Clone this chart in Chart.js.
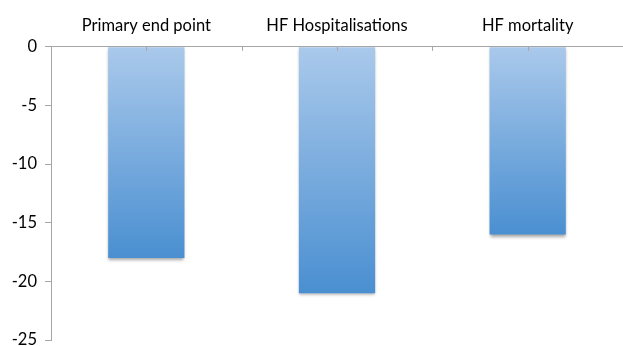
<!DOCTYPE html>
<html>
<head>
<meta charset="utf-8">
<script src="https://cdn.jsdelivr.net/npm/chart.js@4"></script>
<style>
  html, body { margin: 0; padding: 0; background: #fff; overflow: hidden; }
  #frame { width: 623px; height: 346px; overflow: hidden; }
  #wrap { width: 623px; height: 358px; }
</style>
</head>
<body>
<div id="frame"><div id="wrap"><canvas id="chart"></canvas></div></div>
<script>
// --- Data ---
const categories = ['Primary end point', 'HF Hospitalisations', 'HF mortality'];
const reduction = [-18, -21, -16];
const yTicks = [0, -5, -10, -15, -20, -25];

const AXIS_GREY = '#a6a6a6';
const FONT = { family: 'Lato', size: 16.5 };

// vertical gradient per bar, light at the zero line, darker at the bar end
function barGradient(context) {
    const chart = context.chart;
    if (!chart.chartArea || context.parsed === undefined) return '#8fb5e2';
    const y = chart.scales.y;
    const top = y.getPixelForValue(0);
    const bottom = y.getPixelForValue(context.parsed.y);
    const g = chart.ctx.createLinearGradient(0, top, 0, bottom);
    g.addColorStop(0, '#aac9eb');
    g.addColorStop(1, '#4a8fd1');
    return g;
}

// soft shadow under the bars
const barShadow = {
    id: 'barShadow',
    beforeDatasetsDraw(chart) {
        const ctx = chart.ctx;
        ctx.save();
        ctx.shadowColor = 'rgba(0,0,0,0.35)';
        ctx.shadowBlur = 3;
        ctx.shadowOffsetY = 2;
    },
    afterDatasetsDraw(chart) {
        chart.ctx.restore();
    }
};

// small tick marks hanging down from the top axis, at boundaries and centres
const innerTicks = {
    id: 'innerTicks',
    afterDraw(chart) {
        const x = chart.scales.x;
        const ctx = chart.ctx;
        const top = chart.chartArea.top;
        const half = (x.getPixelForValue(1) - x.getPixelForValue(0)) / 2;
        ctx.save();
        ctx.strokeStyle = AXIS_GREY;
        ctx.lineWidth = 1;
        ctx.beginPath();
        categories.forEach((c, i) => {
            const cx = x.getPixelForValue(i);
            [cx, cx + half].forEach(px => {
                const p = Math.round(px) + 0.5;
                ctx.moveTo(p, top);
                ctx.lineTo(p, top + 4);
            });
        });
        ctx.stroke();
        ctx.restore();
    }
};

new Chart(document.getElementById('chart'), {
    type: 'bar',
    data: {
        labels: categories,
        datasets: [{
            data: reduction,
            backgroundColor: barGradient,
            borderWidth: 0,
            categoryPercentage: 1,
            barPercentage: 0.4
        }]
    },
    options: {
        responsive: true,
        maintainAspectRatio: false,
        animation: false,
        layout: { padding: { top: 13, right: 0, bottom: 7, left: 0 } },
        plugins: { legend: { display: false }, tooltip: { enabled: false } },
        scales: {
            x: {
                position: 'top',
                grid: { display: false },
                border: { display: true, color: AXIS_GREY, width: 1 },
                ticks: { color: '#000', font: FONT, padding: 3 }
            },
            y: {
                min: -25,
                max: 0,
                afterBuildTicks: (scale) => { scale.ticks = yTicks.map(v => ({ value: v })); },
                grid: { drawOnChartArea: false, color: AXIS_GREY, tickLength: 6 },
                border: { display: true, color: AXIS_GREY, width: 1 },
                ticks: { color: '#000', font: FONT, padding: 8 },
                afterFit: (scale) => { scale.width = 51; }
            }
        }
    },
    plugins: [barShadow, innerTicks]
});
</script>
</body>
</html>
